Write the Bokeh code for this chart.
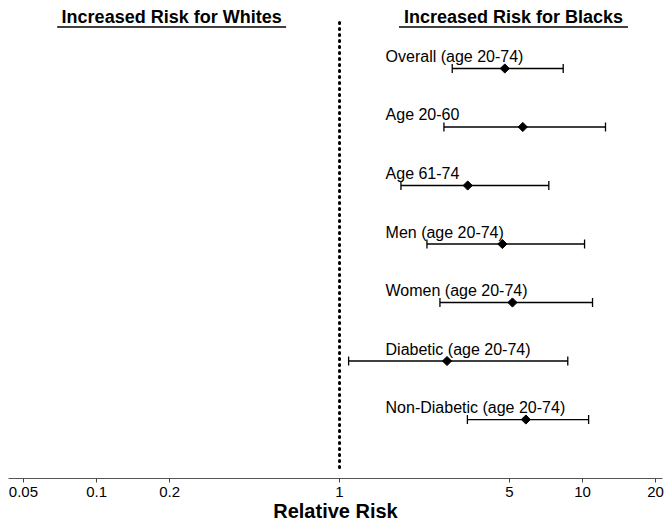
import math
from bokeh.plotting import figure
from bokeh.models import ColumnDataSource, Whisker, TeeHead, Range1d, FixedTicker
from bokeh.core.properties import value
from bokeh.embed import file_html
from bokeh.resources import INLINE

# ---- data ----
categories = ["Overall (age 20-74)", "Age 20-60", "Age 61-74", "Men (age 20-74)",
              "Women (age 20-74)", "Diabetic (age 20-74)", "Non-Diabetic (age 20-74)"]
relative_risk = [4.79, 5.68, 3.37, 4.68, 5.15, 2.77, 5.85]
ci_lower = [2.91, 2.69, 1.79, 2.29, 2.59, 1.09, 3.36]
ci_upper = [8.33, 12.44, 7.27, 10.2, 11.0, 8.7, 10.6]
tick_values = [0.05, 0.1, 0.2, 1, 5, 10, 20]
tick_labels = ["0.05", "0.1", "0.2", "1", "5", "10", "20"]
headers = ["Increased Risk for Whites", "Increased Risk for Blacks"]
header_x = [0.2037, 5.2]
reference_value = 1

FONT = "Liberation Sans"
PX_PER_DECADE = 243
rows = list(range(len(categories)))

src = ColumnDataSource(dict(cat=categories, rr=relative_risk, lo=ci_lower, hi=ci_upper,
                            y=rows, ylab=[r - 0.205 for r in rows],
                            xlab=[1.547] * len(rows)))

p = figure(width=666, height=525, output_backend="svg", toolbar_location=None,
           x_axis_type="log", x_range=Range1d(0.0434, 21.35),
           y_range=Range1d(7.008, -1.162),
           min_border_left=8, min_border_right=4, min_border_top=0, min_border_bottom=47)
p.outline_line_color = None
p.xgrid.visible = False
p.ygrid.visible = False
p.yaxis.visible = False
p.background_fill_color = "white"
p.border_fill_color = "white"

# x axis
ax = p.xaxis[0]
ax.ticker = FixedTicker(ticks=tick_values, minor_ticks=[])
ax.major_label_overrides = {v: l for v, l in zip(tick_values, tick_labels)}
ax.major_label_text_font = FONT
ax.major_label_text_font_size = "15px"
ax.major_label_text_color = "black"
ax.major_tick_in = 0
ax.major_tick_out = 4
ax.major_tick_line_color = "#444444"
ax.minor_tick_line_color = None
ax.axis_line_color = "#555555"
ax.axis_line_width = 1
ax.major_label_standoff = 4
ax.axis_label = "Relative Risk"
ax.axis_label_text_font = FONT
ax.axis_label_text_font_size = "20px"
ax.axis_label_text_font_style = "bold"
ax.axis_label_text_color = "black"
ax.axis_label_standoff = 0

# dotted reference line at RR = 1
p.segment(x0=[reference_value], x1=[reference_value], y0=[-0.786], y1=[6.9],
          line_color="black", line_width=3, line_dash="1 5", line_cap="round")

# headers with underline
p.text(x=header_x, y=[-0.872] * 2, text=headers, text_font=value(FONT),
       text_font_size="18px", text_font_style="bold", text_align="center",
       text_baseline="middle", text_color="black")
half = 10 ** (114.5 / PX_PER_DECADE)
p.segment(x0=[h / half for h in header_x], x1=[h * half for h in header_x],
          y0=[-0.71] * 2, y1=[-0.71] * 2, line_color="black", line_width=1.6)

# error bars
w = Whisker(base="y", lower="lo", upper="hi", dimension="width", source=src,
            line_color="black", line_width=1.3,
            lower_head=TeeHead(size=9, line_color="black", line_width=1.3),
            upper_head=TeeHead(size=9, line_color="black", line_width=1.3))
p.add_layout(w)

# points (diamonds)
p.scatter(x="rr", y="y", source=src, marker="square", size=6.5, angle=math.pi / 4,
          fill_color="black", line_color="black")

# row labels
p.text(x="xlab", y="ylab", text="cat", source=src, text_font=value(FONT),
       text_font_size="16px", text_align="left", text_baseline="middle",
       text_color="black")

open("out.html", "w").write(file_html(p, INLINE))
